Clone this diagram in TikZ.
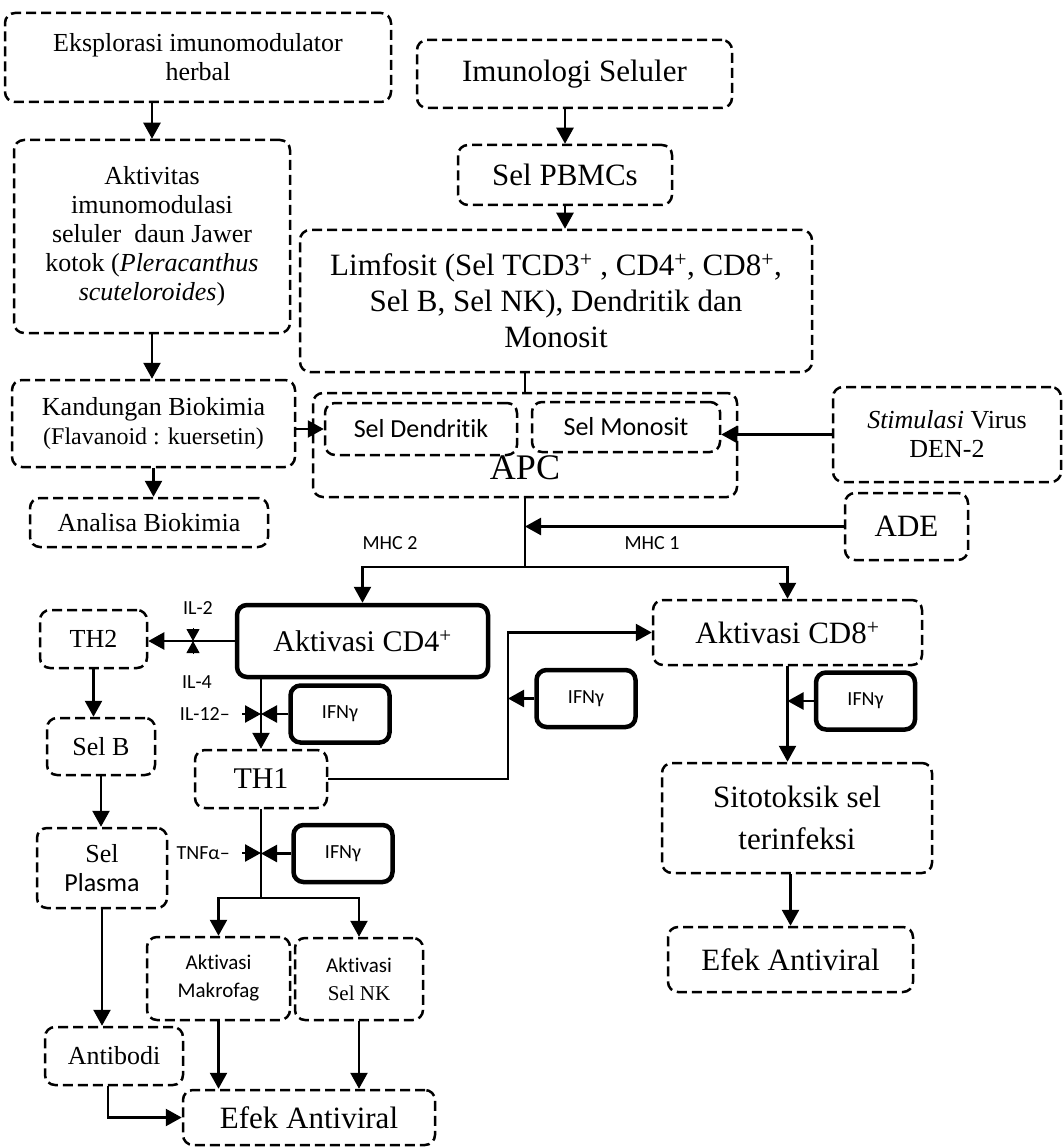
\documentclass[tikz,border=0pt]{standalone}
\usepackage{fontspec}
\setmainfont{Liberation Serif}
\newfontfamily\calibri[Ligatures=CommonOff]{Carlito}
\usetikzlibrary{arrows.meta}

\begin{document}
\begin{tikzpicture}[x=1pt, y=-1pt,
      dbox/.style={draw, line width=2.5pt, dash pattern=on 10pt off 5pt,
                   rounded corners=10pt, align=center, inner sep=0pt},
      hbox/.style={draw, line width=4.5pt, rounded corners=10pt,
                   align=center, inner sep=0pt},
      sz/.style 2 args={minimum width=#1pt, minimum height=#2pt},
      f26/.style={font=\fontsize{26}{29}\selectfont},
      f31/.style={font=\fontsize{31}{36}\selectfont},
      s26/.style={font=\calibri\fontsize{26}{29}\selectfont},
      lab/.style={font=\calibri\fontsize{20}{22}\selectfont, inner sep=0pt},
      arr/.style={-{Triangle[length=16pt,width=17pt]}, line width=2.5pt},
      tiearr/.style={-{Triangle[length=12pt,width=13pt]}, line width=1pt},
      link/.style={line width=2.5pt}
    ]
    \useasboundingbox (0,0) rectangle (1063,1147);

    % herbal column
    \node[dbox, sz={386}{89}, f26]  (eks)  at (198,57.5)  {Eksplorasi imunomodulator\\herbal};
    \node[dbox, sz={276}{193}, f26] (akt)  at (152,236.5)
          {Aktivitas\\imunomodulasi\\seluler\ \ daun Jawer\\kotok (\textit{Pleracanthus}\\\textit{scuteloroides})};
    \node[dbox, sz={283}{87}, f26]  (kand) at (153.5,423.5)
          {Kandungan Biokimia\\{\fontsize{24}{29}\selectfont(Flavanoid : kuersetin)}};
    \node[dbox, sz={238}{49}, f26]  (anal) at (149,522.5) {Analisa Biokimia};

    % cellular column
    \node[dbox, sz={315}{68}, f31]  (imu)  at (574.5,74) {Imunologi Seluler};
    \node[dbox, sz={214}{60}, f31]  (pbmc) at (565,175)  {Sel PBMCs};
    \node[dbox, sz={512}{142}, f31] (limf) at (556,301)
          {Limfosit (Sel TCD3\textsuperscript{+} , CD4\textsuperscript{+}, CD8\textsuperscript{+},\\Sel B, Sel NK), Dendritik dan\\Monosit};

    \node[dbox, sz={424}{104}]      (apc)  at (525,445) {};
    \node[dbox, sz={192}{52}, s26]  (dend) at (421,429) {Sel Dendritik};
    \node[dbox, sz={188}{50}, s26]  (mono) at (626,427) {Sel Monosit};
    \node[font=\fontsize{36}{40}\selectfont, inner sep=0pt] (apclab) at (525,468) {APC};

    \node[dbox, sz={228}{95}, f26]  (stim) at (947,434.5) {\textit{Stimulasi} Virus\\DEN-2};
    \node[dbox, sz={123}{67}, f31]  (ade)  at (906.5,526.5) {ADE};

    % T cells
    \node[hbox, sz={251}{72}, font=\fontsize{30}{34}\selectfont] (cd4) at (362.5,641) {Aktivasi CD4\textsuperscript{+}};
    \node[dbox, sz={269}{65}, f31]  (cd8)  at (787.5,632.5) {Aktivasi CD8\textsuperscript{+}};
    \node[dbox, sz={107}{58}, f26]  (th2)  at (93.5,639) {TH2};
    \node[dbox, sz={132}{58}, font=\fontsize{30}{34}\selectfont] (th1) at (261,779) {TH1};
    \node[dbox, sz={108}{57}, f26]  (selb) at (101,746.5) {Sel B};
    \node[dbox, sz={130}{80}, f26]  (plasma) at (102,868) {Sel\\{\calibri Plasma}};
    \node[dbox, sz={138}{58}, f26]  (antib) at (114,1056) {Antibodi};

    \node[dbox, sz={143}{83}, font=\calibri\fontsize{21}{28}\selectfont] (makro) at (218.5,978.5) {Aktivasi\\Makrofag};
    \node[dbox, sz={128}{82}, font=\fontsize{21}{28}\selectfont] (nk) at (359,979) {{\calibri Aktivasi}\\Sel NK};
    \node[dbox, sz={252}{55}, f31]  (efekL) at (309,1117.5) {Efek Antiviral};
    \node[dbox, sz={270}{110}, font=\fontsize{31}{42}\selectfont] (sito) at (797,818) {Sitotoksik sel\\terinfeksi};
    \node[dbox, sz={245}{65}, f31]  (efekR) at (790.5,959.5) {Efek Antiviral};

    \foreach \n/\x/\y in {ifnA/340/714, ifnB/586/698.5, ifnC/865.5/701, ifnD/343/853.5}
      \node[hbox, sz={99}{57}, lab] (\n) at (\x,\y) {IFNγ};

    % labels
    \node[lab] (mhcb) at (390,543) {MHC 2};
    \node[lab] (mhca) at (652,543) {MHC 1};
    \node[lab] (il2)  at (198,608) {IL-2};
    \node[lab] (il4)  at (197,682) {IL-4};
    \node[lab, anchor=east] (il12) at (230,714) {IL-12–};
    \node[lab, anchor=east] (tnf)  at (230,853) {TNFα–};

    \coordinate (fork)  at (525,567);
    \coordinate (fork2) at (261,898);
    \coordinate (bend)  at (508,0);
    \coordinate (tie)   at (193,641);

    % connectors
    \draw[arr] (eks.south -| akt.north) -- (akt.north);
    \draw[arr] (akt.south) -- (akt.south |- kand.north);
    \draw[arr] (kand.south) -- (kand.south |- anal.north);
    \draw[arr] (imu.south -| pbmc.north) -- (pbmc.north);
    \draw[arr] (pbmc.south) -- (pbmc.south |- limf.north);
    \draw[link] (limf.south -| apc.north) -- (apc.north);
    \draw[arr] (kand.east |- dend.west) -- (dend.west);
    \draw[arr] (stim.west) -- (stim.west -| mono.east);
    \draw[link] (apc.south) -- (fork);
    \draw[arr] (ade.west) -- (ade.west -| fork);
    \draw[arr] (fork) -| (cd4.north);
    \draw[arr] (fork) -| (cd8.north);

    \draw[arr] (cd4.west) -- (cd4.west -| th2.east);
    \draw[tiearr] ([yshift=13pt]tie) -- (tie);
    \draw[tiearr] ([yshift=-13pt]tie) -- (tie);
    \draw[arr] (cd4.south -| th1.north) -- (th1.north);
    \draw[arr, shorten <=12pt] (il12.east) -- (il12.east -| th1.north);
    \draw[arr] (ifnA.west) -- (ifnA.west -| th1.north);
    \draw[arr] (th1.east) -- (th1.east -| bend) |- (cd8.west);
    \draw[arr] (ifnB.west) -- (ifnB.west -| bend);
    \draw[arr] (cd8.south) -- (cd8.south |- sito.north);
    \draw[arr] (ifnC.west) -- (ifnC.west -| cd8.south);
    \draw[arr] (sito.south -| efekR.north) -- (efekR.north);

    \draw[arr] (th2.south) -- (th2.south |- selb.north);
    \draw[arr] (selb.south) -- (selb.south |- plasma.north);
    \draw[arr] (plasma.south) -- (plasma.south |- antib.north);
    \draw[arr] ([xshift=-6pt]antib.south) |- (efekL.west);

    \draw[link] (th1.south) -- (fork2);
    \draw[arr, shorten <=12pt] (tnf.east) -- (tnf.east -| fork2);
    \draw[arr] (ifnD.west) -- (ifnD.west -| fork2);
    \draw[arr] (fork2) -| (makro.north);
    \draw[arr] (fork2) -| (nk.north);
    \draw[arr] (makro.south) -- (makro.south |- efekL.north);
    \draw[arr] (nk.south) -- (nk.south |- efekL.north);
  \end{tikzpicture}
\end{document}
